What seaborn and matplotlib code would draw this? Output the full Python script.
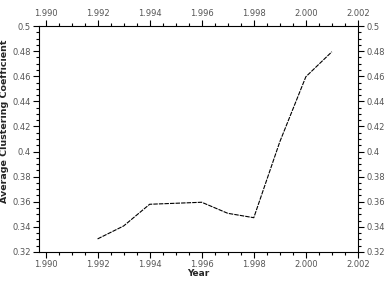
import matplotlib
matplotlib.use("Agg")
import matplotlib.pyplot as plt
import matplotlib.ticker as mticker
import seaborn as sns
import pandas as pd

# values
years = [1992, 1993, 1994, 1995, 1996, 1997, 1998, 1999, 2000, 2001]
avg_clustering = [0.3304, 0.3407, 0.3580, 0.3588, 0.3596, 0.3508, 0.3473, 0.4078, 0.4596, 0.4795]

x_ticks = [1990, 1992, 1994, 1996, 1998, 2000, 2002]
y_ticks = [0.32, 0.34, 0.36, 0.38, 0.40, 0.42, 0.44, 0.46, 0.48, 0.50]

df = pd.DataFrame({"Year": years, "Coef": avg_clustering})

sns.set_style("ticks")
plt.rcParams["font.family"] = ["DejaVu Sans"]

fig = plt.figure(figsize=(3.88, 2.86), dpi=100)
ax = fig.add_axes([0.1005, 0.119, 0.822, 0.790])

sns.lineplot(x="Year", y="Coef", data=df, ax=ax, color="black",
             linewidth=0.8, linestyle=(0, (4, 1)))

ax.set_xlim(1989.75, 2002)
ax.set_ylim(0.32, 0.5)
ax.set_xticks(x_ticks)
ax.set_yticks(y_ticks)
ax.xaxis.set_minor_locator(mticker.MultipleLocator(0.5))
ax.yaxis.set_minor_locator(mticker.MultipleLocator(0.005))

# years written like "1.990" in the reference
ax.xaxis.set_major_formatter(mticker.FuncFormatter(lambda v, p: f"{int(round(v)) // 1000}.{int(round(v)) % 1000:03d}"))
ax.yaxis.set_major_formatter(mticker.FuncFormatter(lambda v, p: f"{round(v, 2):g}"))

ax.tick_params(which="both", direction="out", top=True, right=True,
               labeltop=True, labelright=True, labelsize=6, colors="black",
               labelcolor="#555555", width=0.8, pad=2)
ax.tick_params(which="major", length=4)
ax.tick_params(which="minor", length=2.5)

for s in ax.spines.values():
    s.set_linewidth(0.8)
    s.set_color("black")

ax.set_xlabel("Year", fontsize=6.5, fontweight="bold", labelpad=0)
ax.set_ylabel("Average Clustering Coefficient", fontsize=6.8, fontweight="bold")
ax.yaxis.set_label_coords(-0.095, 0.58)

fig.savefig("out.png", dpi=100)
